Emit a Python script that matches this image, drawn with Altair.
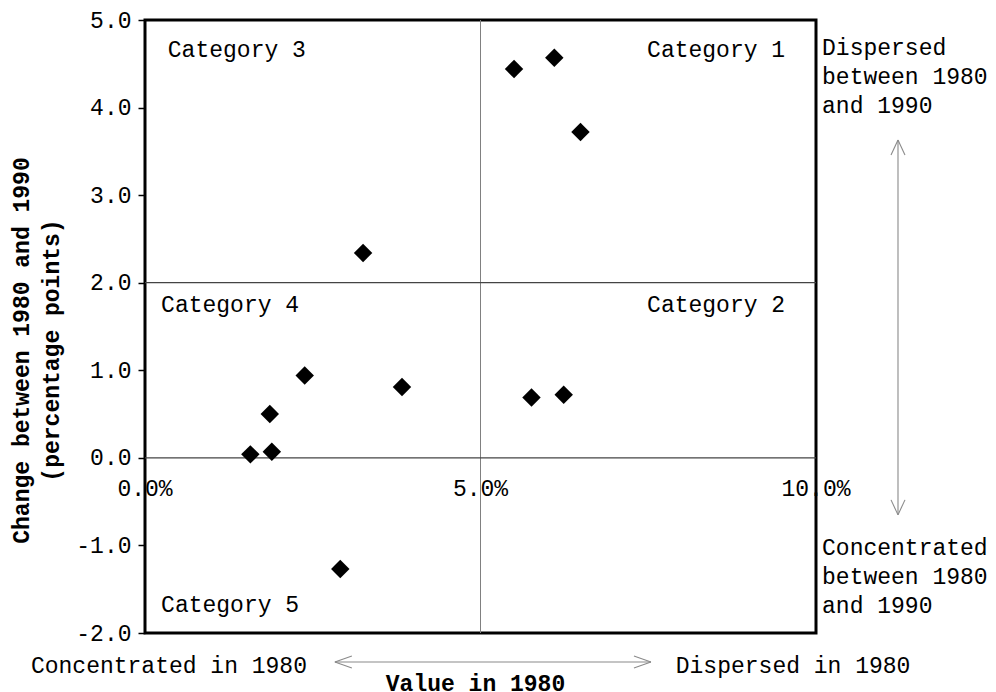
import altair as alt
import pandas as pd

# ---- chart values ----
value_1980 = [5.50, 6.10, 6.49, 5.76, 6.24, 3.25, 2.38, 3.83, 1.86, 1.57, 1.89, 2.91]
change_1980_1990 = [4.44, 4.57, 3.72, 0.69, 0.72, 2.34, 0.94, 0.81, 0.50, 0.04, 0.07, -1.27]

x_tick_values = [0, 5, 10]
x_tick_labels = ["0.0%", "5.0%", "10.0%"]
y_tick_values = [-2, -1, 0, 1, 2, 3, 4, 5]

divider_x = [5]
divider_y = [0, 2]

cat_right_names = ["Category 1", "Category 2"]
cat_left_names = ["Category 3", "Category 4", "Category 5"]

side_notes = [["Dispersed", "between 1980", "and 1990"],
              ["Concentrated", "between 1980", "and 1990"]]
bottom_notes = ["Concentrated in 1980", "Dispersed in 1980"]

# ---- annotation anchors (data units) ----
cat_right_x = [9.54, 9.54]
cat_right_y = [4.58, 1.66]
cat_left_x = [0.34, 0.24, 0.24]
cat_left_y = [4.58, 1.66, -1.76]
side_x = [10.09, 10.09]
side_y = [4.60, -1.11]
bottom_x = [-1.70, 7.91]
bottom_y = [-2.456, -2.456]

FONT = "Courier New, Liberation Mono, monospace"
FS = 23

pts = pd.DataFrame({"v": value_1980, "c": change_1980_1990})

xs = alt.Scale(domain=[0, 10], nice=False, zero=False)
ys = alt.Scale(domain=[-2, 5], nice=False, zero=False)

x_axis = alt.Axis(labels=False, ticks=False, domain=False, grid=False,
                  title="Value in 1980", titleFont=FONT, titleFontSize=FS,
                  titleFontWeight="bold", titleColor="black",
                  titleX=330, titleY=57, titleAlign="center",
                  titleBaseline="alphabetic")
y_axis = alt.Axis(values=y_tick_values, grid=False, domain=False,
                  labelExpr="replace(format(datum.value, '.1f'), '\u2212', '-')",
                  labelFont=FONT, labelFontSize=FS, labelColor="black",
                  labelPadding=7, tickSize=7, tickColor="black", tickWidth=1.5,
                  title=["Change between 1980 and 1990", "(percentage points)"],
                  titleFont=FONT, titleFontSize=FS, titleFontWeight="bold",
                  titleColor="black", titleAngle=270, titleX=-117, titleY=330,
                  titleAlign="center", titleBaseline="alphabetic",
                  titleLineHeight=30)

points = alt.Chart(pts).mark_point(shape="diamond", filled=True, size=340,
                                   color="black", opacity=1).encode(
    x=alt.X("v:Q", scale=xs, axis=x_axis),
    y=alt.Y("c:Q", scale=ys, axis=y_axis),
)

vline = alt.Chart(pd.DataFrame({"x": divider_x})).mark_rule(
    color="#808080", strokeWidth=1).encode(
    x=alt.X("x:Q", scale=xs), y=alt.value(0), y2=alt.value(613))

hlines = alt.Chart(pd.DataFrame({"y": divider_y})).mark_rule(
    color="#444444", strokeWidth=1.2).encode(
    y=alt.Y("y:Q", scale=ys), x=alt.value(0), x2=alt.value(671))

xlabels = alt.Chart(pd.DataFrame({"x": x_tick_values, "y": [0] * 3,
                                  "t": x_tick_labels})).mark_text(
    font=FONT, fontSize=FS, color="black", baseline="middle", align="center",
    dy=31).encode(x=alt.X("x:Q", scale=xs), y=alt.Y("y:Q", scale=ys), text="t:N")

cat_r = alt.Chart(pd.DataFrame({"x": cat_right_x, "y": cat_right_y,
                                "t": cat_right_names})).mark_text(
    font=FONT, fontSize=FS, color="black", align="right",
    baseline="alphabetic").encode(
    x=alt.X("x:Q", scale=xs), y=alt.Y("y:Q", scale=ys), text="t:N")

cat_l = alt.Chart(pd.DataFrame({"x": cat_left_x, "y": cat_left_y,
                                "t": cat_left_names})).mark_text(
    font=FONT, fontSize=FS, color="black", align="left",
    baseline="alphabetic").encode(
    x=alt.X("x:Q", scale=xs), y=alt.Y("y:Q", scale=ys), text="t:N")

side = alt.Chart(pd.DataFrame({"x": side_x, "y": side_y,
                               "t": side_notes})).mark_text(
    font=FONT, fontSize=FS, color="black", align="left",
    baseline="alphabetic", lineHeight=29).encode(
    x=alt.X("x:Q", scale=xs), y=alt.Y("y:Q", scale=ys), text="t")

bottom = alt.Chart(pd.DataFrame({"x": bottom_x, "y": bottom_y,
                                 "t": bottom_notes})).mark_text(
    font=FONT, fontSize=FS, color="black", align="left",
    baseline="alphabetic").encode(
    x=alt.X("x:Q", scale=xs), y=alt.Y("y:Q", scale=ys), text="t:N")

# ---- double-headed arrows ----
def arrow(x1, y1, x2, y2, hx, hy, horizontal):
    segs = [(x1, y1, x2, y2)]
    if horizontal:
        segs += [(x1, y1, x1 + hx, y1 + hy), (x1, y1, x1 + hx, y1 - hy),
                 (x2, y2, x2 - hx, y2 + hy), (x2, y2, x2 - hx, y2 - hy)]
    else:
        segs += [(x1, y1, x1 + hx, y1 - hy), (x1, y1, x1 - hx, y1 - hy),
                 (x2, y2, x2 + hx, y2 + hy), (x2, y2, x2 - hx, y2 + hy)]
    return segs

segs = arrow(2.83, -2.331, 7.54, -2.331, 0.253, 0.0685, True)
segs += arrow(11.222, 3.630, 11.222, -0.651, 0.104, 0.171, False)
arr = pd.DataFrame(segs, columns=["x", "y", "x2", "y2"])
arrows = alt.Chart(arr).mark_rule(color="#8a8a8a", strokeWidth=1.1).encode(
    x=alt.X("x:Q", scale=xs), y=alt.Y("y:Q", scale=ys),
    x2="x2:Q", y2="y2:Q")

chart = alt.layer(vline, hlines, arrows, points, xlabels, cat_r, cat_l, side,
                  bottom).properties(
    width=671, height=613,
    padding={"left": 137, "top": 12, "right": 172, "bottom": 62},
    autosize=alt.AutoSizeParams(type="none"),
    background="white",
).configure_view(stroke="black", strokeWidth=3)

chart.save("out.html", embed_options={"renderer": "svg", "actions": False})
